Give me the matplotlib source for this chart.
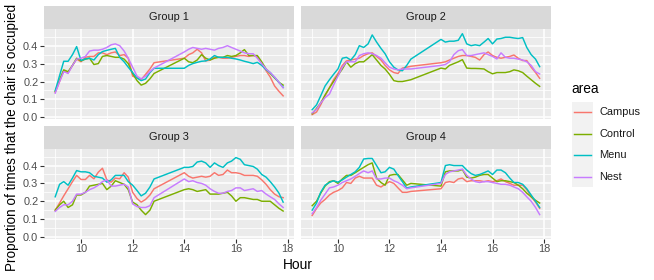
import matplotlib
matplotlib.use('Agg')
import matplotlib.pyplot as plt
from matplotlib.ticker import MultipleLocator

plt.rcParams['font.family'] = ['Liberation Sans', 'DejaVu Sans']

# 10-minute slots, no readings between 13:00 and 13:50
hours = [9.0, 9.17, 9.33, 9.5, 9.67, 9.83,
         10.0, 10.17, 10.33, 10.5, 10.67, 10.83,
         11.0, 11.17, 11.33, 11.5, 11.67, 11.83,
         12.0, 12.17, 12.33, 12.5, 12.67, 12.83,
         14.0, 14.17, 14.33, 14.5, 14.67, 14.83,
         15.0, 15.17, 15.33, 15.5, 15.67, 15.83,
         16.0, 16.17, 16.33, 16.5, 16.67, 16.83,
         17.0, 17.17, 17.33, 17.5, 17.67, 17.83]

areas = ['Campus', 'Control', 'Menu', 'Nest']
colors = ['#F8766D', '#7CAE00', '#00BFC4', '#C77CFF']
groups = ['Group 1', 'Group 2', 'Group 3', 'Group 4']

# --- Group 1 ---
campus_g1 = [0.14, 0.20, 0.26, 0.25, 0.29, 0.325,
             0.31, 0.335, 0.34, 0.34, 0.36, 0.36,
             0.35, 0.36, 0.365, 0.345, 0.35, 0.33,
             0.23, 0.22, 0.21, 0.24, 0.27, 0.305,
             0.33, 0.35, 0.36, 0.38, 0.36, 0.315,
             0.32, 0.335, 0.335, 0.33, 0.33, 0.335,
             0.34, 0.345, 0.345, 0.34, 0.345, 0.34,
             0.30, 0.26, 0.225, 0.175, 0.145, 0.12]
control_g1 = [0.145, 0.21, 0.265, 0.255, 0.29, 0.33,
              0.315, 0.325, 0.33, 0.295, 0.30, 0.34,
              0.345, 0.34, 0.335, 0.335, 0.325, 0.30,
              0.245, 0.205, 0.18, 0.19, 0.215, 0.245,
              0.33, 0.31, 0.305, 0.32, 0.35, 0.33,
              0.32, 0.33, 0.335, 0.335, 0.345, 0.34,
              0.345, 0.36, 0.378, 0.345, 0.345, 0.345,
              0.31, 0.27, 0.245, 0.22, 0.195, 0.18]
menu_g1 = [0.149, 0.233, 0.313, 0.313, 0.35, 0.395,
           0.317, 0.326, 0.33, 0.32, 0.35, 0.367,
           0.374, 0.38, 0.385, 0.335, 0.31, 0.28,
           0.25, 0.22, 0.205, 0.214, 0.25, 0.274,
           0.274, 0.29, 0.30, 0.307, 0.313, 0.315,
           0.326, 0.345, 0.335, 0.335, 0.335, 0.33,
           0.326, 0.32, 0.313, 0.307, 0.30, 0.307,
           0.29, 0.266, 0.25, 0.223, 0.195, 0.168]
nest_g1 = [0.135, 0.20, 0.255, 0.245, 0.29, 0.325,
           0.33, 0.34, 0.37, 0.375, 0.375, 0.38,
           0.39, 0.405, 0.41, 0.40, 0.37, 0.33,
           0.28, 0.23, 0.215, 0.23, 0.255, 0.275,
           0.365, 0.38, 0.39, 0.385, 0.38, 0.385,
           0.38, 0.375, 0.385, 0.39, 0.40, 0.39,
           0.38, 0.37, 0.36, 0.355, 0.355, 0.33,
           0.30, 0.27, 0.25, 0.225, 0.195, 0.165]

# --- Group 2 ---
campus_g2 = [0.015, 0.03, 0.07, 0.12, 0.165, 0.21,
             0.245, 0.29, 0.315, 0.32, 0.325, 0.33,
             0.345, 0.355, 0.36, 0.34, 0.32, 0.29,
             0.265, 0.25, 0.245, 0.275, 0.28, 0.285,
             0.305, 0.31, 0.32, 0.33, 0.34, 0.345,
             0.345, 0.34, 0.335, 0.32, 0.35, 0.365,
             0.345, 0.335, 0.33, 0.335, 0.34, 0.348,
             0.33, 0.317, 0.317, 0.28, 0.25, 0.218]
control_g2 = [0.02, 0.05, 0.08, 0.125, 0.165, 0.20,
              0.235, 0.27, 0.31, 0.28, 0.30, 0.31,
              0.31, 0.33, 0.35, 0.32, 0.29, 0.27,
              0.24, 0.205, 0.20, 0.20, 0.205, 0.21,
              0.275, 0.27, 0.29, 0.30, 0.31, 0.322,
              0.275, 0.273, 0.273, 0.272, 0.27, 0.255,
              0.243, 0.25, 0.25, 0.25, 0.255, 0.265,
              0.26, 0.25, 0.23, 0.21, 0.19, 0.173]
menu_g2 = [0.043, 0.07, 0.12, 0.175, 0.21, 0.24,
           0.27, 0.33, 0.335, 0.32, 0.35, 0.40,
           0.39, 0.41, 0.46, 0.42, 0.385, 0.355,
           0.31, 0.28, 0.265, 0.26, 0.29, 0.325,
           0.435, 0.42, 0.425, 0.425, 0.43, 0.467,
           0.41, 0.40, 0.405, 0.40, 0.42, 0.44,
           0.41, 0.437, 0.44, 0.447, 0.447, 0.443,
           0.44, 0.445, 0.39, 0.35, 0.325, 0.283]
nest_g2 = [0.025, 0.045, 0.08, 0.11, 0.13, 0.18,
           0.23, 0.28, 0.31, 0.31, 0.31, 0.345,
           0.355, 0.36, 0.355, 0.345, 0.33, 0.305,
           0.28, 0.27, 0.265, 0.27, 0.27, 0.27,
           0.29, 0.295, 0.31, 0.35, 0.372, 0.378,
           0.345, 0.345, 0.35, 0.355, 0.36, 0.35,
           0.34, 0.326, 0.36, 0.335, 0.33, 0.33,
           0.325, 0.32, 0.31, 0.29, 0.255, 0.242]

# --- Group 3 ---
campus_g3 = [0.15, 0.19, 0.23, 0.27, 0.31, 0.345,
             0.322, 0.322, 0.345, 0.326, 0.363, 0.385,
             0.32, 0.307, 0.33, 0.326, 0.36, 0.335,
             0.25, 0.215, 0.195, 0.21, 0.235, 0.27,
             0.36, 0.34, 0.33, 0.335, 0.34, 0.335,
             0.34, 0.36, 0.345, 0.35, 0.375, 0.36,
             0.36, 0.355, 0.345, 0.345, 0.345, 0.34,
             0.32, 0.295, 0.265, 0.24, 0.225, 0.22]
control_g3 = [0.15, 0.18, 0.20, 0.165, 0.18, 0.235,
              0.235, 0.25, 0.285, 0.29, 0.295, 0.30,
              0.265, 0.285, 0.315, 0.305, 0.295, 0.265,
              0.195, 0.18, 0.15, 0.125, 0.15, 0.20,
              0.265, 0.27, 0.265, 0.255, 0.26, 0.265,
              0.24, 0.24, 0.24, 0.245, 0.25, 0.23,
              0.20, 0.22, 0.22, 0.215, 0.21, 0.21,
              0.20, 0.20, 0.20, 0.18, 0.16, 0.145]
menu_g3 = [0.225, 0.295, 0.31, 0.29, 0.33, 0.372,
           0.365, 0.365, 0.36, 0.34, 0.335, 0.33,
           0.307, 0.32, 0.345, 0.345, 0.345, 0.31,
           0.29, 0.26, 0.23, 0.245, 0.28, 0.325,
           0.39, 0.39, 0.395, 0.42, 0.425, 0.415,
           0.39, 0.415, 0.40, 0.39, 0.415, 0.425,
           0.445, 0.435, 0.405, 0.40, 0.395, 0.38,
           0.35, 0.335, 0.31, 0.28, 0.245, 0.195]
nest_g3 = [0.143, 0.165, 0.18, 0.18, 0.20, 0.24,
           0.24, 0.25, 0.265, 0.275, 0.29, 0.31,
           0.32, 0.285, 0.285, 0.29, 0.295, 0.28,
           0.185, 0.17, 0.165, 0.165, 0.175, 0.22,
           0.325, 0.31, 0.315, 0.305, 0.30, 0.29,
           0.27, 0.255, 0.245, 0.245, 0.255, 0.26,
           0.275, 0.275, 0.26, 0.265, 0.27, 0.255,
           0.26, 0.24, 0.225, 0.21, 0.185, 0.165]

# --- Group 4 ---
campus_g4 = [0.12, 0.16, 0.19, 0.21, 0.235, 0.25,
             0.26, 0.275, 0.305, 0.30, 0.33, 0.34,
             0.33, 0.33, 0.33, 0.29, 0.28, 0.295,
             0.31, 0.30, 0.275, 0.25, 0.25, 0.255,
             0.27, 0.305, 0.31, 0.305, 0.325, 0.33,
             0.31, 0.315, 0.315, 0.315, 0.31, 0.315,
             0.31, 0.315, 0.325, 0.31, 0.30, 0.29,
             0.29, 0.29, 0.265, 0.225, 0.195, 0.16]
control_g4 = [0.175, 0.20, 0.245, 0.285, 0.31, 0.315,
              0.30, 0.325, 0.345, 0.345, 0.36, 0.375,
              0.39, 0.405, 0.415, 0.33, 0.305, 0.29,
              0.345, 0.35, 0.35, 0.32, 0.29, 0.30,
              0.285, 0.365, 0.37, 0.37, 0.37, 0.378,
              0.335, 0.33, 0.335, 0.345, 0.35, 0.35,
              0.33, 0.31, 0.315, 0.315, 0.31, 0.305,
              0.29, 0.27, 0.245, 0.225, 0.205, 0.19]
menu_g4 = [0.15, 0.19, 0.25, 0.29, 0.305, 0.315,
           0.307, 0.32, 0.335, 0.35, 0.365, 0.39,
           0.437, 0.44, 0.44, 0.40, 0.36, 0.365,
           0.39, 0.38, 0.345, 0.31, 0.274, 0.28,
           0.305, 0.40, 0.405, 0.40, 0.40, 0.40,
           0.375, 0.355, 0.345, 0.35, 0.36, 0.37,
           0.35, 0.375, 0.375, 0.36, 0.33, 0.305,
           0.305, 0.295, 0.27, 0.235, 0.20, 0.165]
nest_g4 = [0.13, 0.165, 0.205, 0.24, 0.275, 0.28,
           0.29, 0.305, 0.315, 0.325, 0.34, 0.355,
           0.37, 0.36, 0.37, 0.325, 0.325, 0.33,
           0.33, 0.315, 0.305, 0.29, 0.27, 0.275,
           0.30, 0.35, 0.365, 0.37, 0.375, 0.38,
           0.345, 0.325, 0.31, 0.305, 0.31, 0.31,
           0.305, 0.30, 0.295, 0.295, 0.29, 0.28,
           0.27, 0.25, 0.225, 0.20, 0.165, 0.125]

series = [
    [campus_g1, control_g1, menu_g1, nest_g1],
    [campus_g2, control_g2, menu_g2, nest_g2],
    [campus_g3, control_g3, menu_g3, nest_g3],
    [campus_g4, control_g4, menu_g4, nest_g4],
]

W, H = 654, 280
fig = plt.figure(figsize=(W / 100, H / 100), dpi=100)


def px_rect(l, t, r, b):
    return [l / W, 1 - b / H, (r - l) / W, (b - t) / H]


# panel boxes in pixels (left, top, right, bottom)
panels = [(44, 29, 294.5, 119), (301, 29, 551, 119),
          (44, 149, 294.5, 238.5), (301, 149, 551, 238.5)]

small = 7.9
big = 9.9

for i, (l, t, r, b) in enumerate(panels):
    ax = fig.add_axes(px_rect(l, t, r, b))
    ax.set_facecolor('#EBEBEB')
    for ys, c in zip(series[i], colors):
        ax.plot(hours, ys, color=c, lw=1.05, solid_joinstyle='round')
    ax.set_xlim(8.566, 18.27)
    ax.set_ylim(-0.009, 0.493)
    ax.xaxis.set_major_locator(MultipleLocator(2))
    ax.xaxis.set_minor_locator(MultipleLocator(1))
    ax.yaxis.set_major_locator(MultipleLocator(0.1))
    ax.yaxis.set_minor_locator(MultipleLocator(0.05))
    ax.grid(which='major', color='white', lw=1.1)
    ax.grid(which='minor', color='white', lw=0.55)
    ax.set_axisbelow(True)
    for s in ax.spines.values():
        s.set_visible(False)
    ax.tick_params(which='minor', length=0)
    ax.tick_params(which='major', length=2.6, width=0.8, color='#333333',
                   labelcolor='#4D4D4D', labelsize=small, pad=1.5)
    if i in (0, 1):
        ax.tick_params(axis='x', which='major', length=0, labelbottom=False)
    if i in (1, 3):
        ax.tick_params(axis='y', which='major', length=0, labelleft=False)
    ax.yaxis.set_major_formatter(matplotlib.ticker.FormatStrFormatter('%.1f'))

    # facet strip
    sax = fig.add_axes(px_rect(l, t - 23, r, t))
    sax.set_facecolor('#D9D9D9')
    sax.set_xticks([])
    sax.set_yticks([])
    for s in sax.spines.values():
        s.set_visible(False)
    sax.text(0.5, 0.5, groups[i], ha='center', va='center',
             fontsize=small, color='#1A1A1A', transform=sax.transAxes)

fig.text(297.5 / W, 1 - 265 / H, 'Hour', ha='center', va='center', fontsize=big)
fig.text(12 / W, 1 - 137 / H, 'Proportion of times that the chair is occupied',
         ha='center', va='center', rotation=90, fontsize=9.75)

# legend
fig.text(571.5 / W, 1 - 89 / H, 'area', ha='left', va='center', fontsize=big)
lax = fig.add_axes(px_rect(571.7, 101.7, 592.7, 187.3))
lax.set_facecolor('#F2F2F2')
lax.set_xlim(0, 1)
lax.set_ylim(4, 0)
lax.set_xticks([])
lax.set_yticks([])
for s in lax.spines.values():
    s.set_visible(False)
for k, (name, c) in enumerate(zip(areas, colors)):
    lax.plot([0.1, 0.9], [k + 0.5, k + 0.5], color=c, lw=1.05)
    fig.text(599 / W, 1 - (101.7 + 21.4 * (k + 0.5)) / H, name,
             ha='left', va='center', fontsize=small, color='#1A1A1A')

fig.savefig('out.png', dpi=100)
